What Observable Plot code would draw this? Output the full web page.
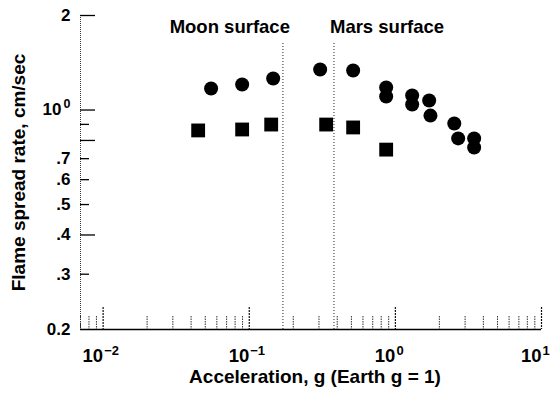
<!DOCTYPE html>
<html><head><meta charset="utf-8">
<script src="https://cdn.jsdelivr.net/npm/d3@7"></script>
<script src="https://cdn.jsdelivr.net/npm/@observablehq/plot@0.6"></script>
<style>body{margin:0;background:#fff}</style>
</head><body><div id="chart"></div>
<script>
// ---- data ----
const circleG    = [0.0548, 0.0894, 0.1458, 0.3056, 0.514, 0.865, 0.865, 1.303, 1.303, 1.703, 1.738, 2.53, 2.69, 3.46, 3.46];
const circleRate = [1.171, 1.206, 1.260, 1.346, 1.336, 1.180, 1.104, 1.112, 1.041, 1.072, 0.960, 0.906, 0.812, 0.812, 0.760];
const squareG    = [0.0447, 0.0894, 0.1413, 0.336, 0.514, 0.865];
const squareRate = [0.861, 0.867, 0.899, 0.899, 0.880, 0.748];

const moonG = 0.17, marsG = 0.38;
const moonLabel = "Moon surface", marsLabel = "Mars surface";

const xDecades   = [0.01, 0.1, 1, 10];
const xExponents = ["\u22122", "\u22121", "0", "1"];
const xMinor = [0.007, 0.008, 0.009,
  0.02, 0.03, 0.04, 0.05, 0.06, 0.07, 0.08, 0.09,
  0.2, 0.3, 0.4, 0.5, 0.6, 0.7, 0.8, 0.9,
  2, 3, 4, 5, 6, 7, 8, 9];

const yLabeled    = [2, 1, 0.7, 0.6, 0.5, 0.4, 0.3, 0.2];
const yLabelText  = ["2", "10", ".7", ".6", ".5", ".4", ".3", "0.2"];
const yMajorTicks = [2, 1, 0.8, 0.4];
const yMinorTicks = [0.9, 0.7, 0.6, 0.5, 0.3];

const xTitle = "Acceleration, g (Earth g = 1)";
const yTitle = "Flame spread rate, cm/sec";

// ---- chart ----
const font = "'Liberation Sans', Arial, Helvetica, sans-serif";
const W = 558, H = 395, mL = 80, mR = 17, mT = 15, mB = 66;
const fw = W - mL - mR, fh = H - mT - mB;

const circles = circleG.map((g, i) => ({g, r: circleRate[i]}));
const squares = squareG.map((g, i) => ({g, r: squareRate[i]}));
const yLab = yLabeled.map((v, i) => ({v, t: yLabelText[i]}));
const xDec = xDecades.map((v, i) => ({v, e: xExponents[i]}));

const bold = {fontWeight: "bold", fill: "#000"};

const chart = Plot.plot({
  width: W, height: H,
  marginLeft: mL, marginRight: mR, marginTop: mT, marginBottom: mB,
  style: {fontFamily: font, background: "#fff", color: "#000", overflow: "visible"},
  x: {type: "log", domain: [0.007, 10], axis: null},
  y: {type: "log", domain: [0.2, 2], axis: null},
  marks: [
    // reference lines
    Plot.ruleX([moonG, marsG], {x: d => d, y1: 0.2, y2: 1.64, stroke: "#222", strokeWidth: 1, strokeDasharray: "1,2"}),
    Plot.text([moonLabel], {x: moonG, y: 2, text: d => d, dy: 12, dx: 7, textAnchor: "end", fontSize: 18.5, ...bold}),
    Plot.text([marsLabel], {x: marsG, y: 2, text: d => d, dy: 12, dx: -4, textAnchor: "start", fontSize: 18.5, ...bold}),
    // axis lines
    Plot.ruleX([0.007], {stroke: "#333", strokeWidth: 1, strokeDasharray: "1,1"}),
    Plot.ruleY([0.2], {stroke: "#000", strokeWidth: 1.3}),
    // x ticks (pointing up)
    Plot.ruleX(xMinor, {x: d => d, insetTop: fh - 13, stroke: "#333", strokeWidth: 1, strokeDasharray: "1.5,1"}),
    Plot.ruleX(xDecades, {x: d => d, insetTop: fh - 22, stroke: "#111", strokeWidth: 1.2, strokeDasharray: "2,1"}),
    // y ticks (pointing right)
    Plot.ruleY(yMajorTicks, {y: d => d, insetRight: fw - 15, stroke: "#000", strokeWidth: 1.3}),
    Plot.ruleY(yMinorTicks, {y: d => d, insetRight: fw - 9, stroke: "#000", strokeWidth: 1.3}),
    // x tick labels
    Plot.text(xDec, {x: "v", frameAnchor: "bottom", dy: 32, text: () => "10", textAnchor: "end", fontSize: 18.5, ...bold}),
    Plot.text(xDec, {x: "v", frameAnchor: "bottom", dy: 25, dx: 1, text: "e", textAnchor: "start", fontSize: 13, ...bold}),
    // y tick labels
    Plot.text(yLab.filter(d => d.v !== 1), {y: "v", frameAnchor: "left", dx: -10, text: "t", textAnchor: "end", fontSize: 17, ...bold}),
    Plot.text(yLab.filter(d => d.v === 1), {y: "v", frameAnchor: "left", dx: -19, text: "t", textAnchor: "end", fontSize: 17, ...bold}),
    Plot.text(yLab.filter(d => d.v === 1), {y: "v", frameAnchor: "left", dx: -10, dy: -6, text: () => "0", textAnchor: "end", fontSize: 12.5, ...bold}),
    // axis titles
    Plot.text([xTitle], {frameAnchor: "bottom", dy: 53, dx: 4, text: d => d, textAnchor: "middle", fontSize: 19, ...bold}),
    Plot.text([yTitle], {frameAnchor: "left", dx: -62, text: d => d, rotate: -90, textAnchor: "middle", fontSize: 19, ...bold}),
    // data
    Plot.dot(squares, {x: "g", y: "r", symbol: "square", r: 7.8, fill: "#000", stroke: "none"}),
    Plot.dot(circles, {x: "g", y: "r", symbol: "circle", r: 7, fill: "#000", stroke: "none"})
  ]
});
document.getElementById("chart").appendChild(chart);
</script>
</body></html>
